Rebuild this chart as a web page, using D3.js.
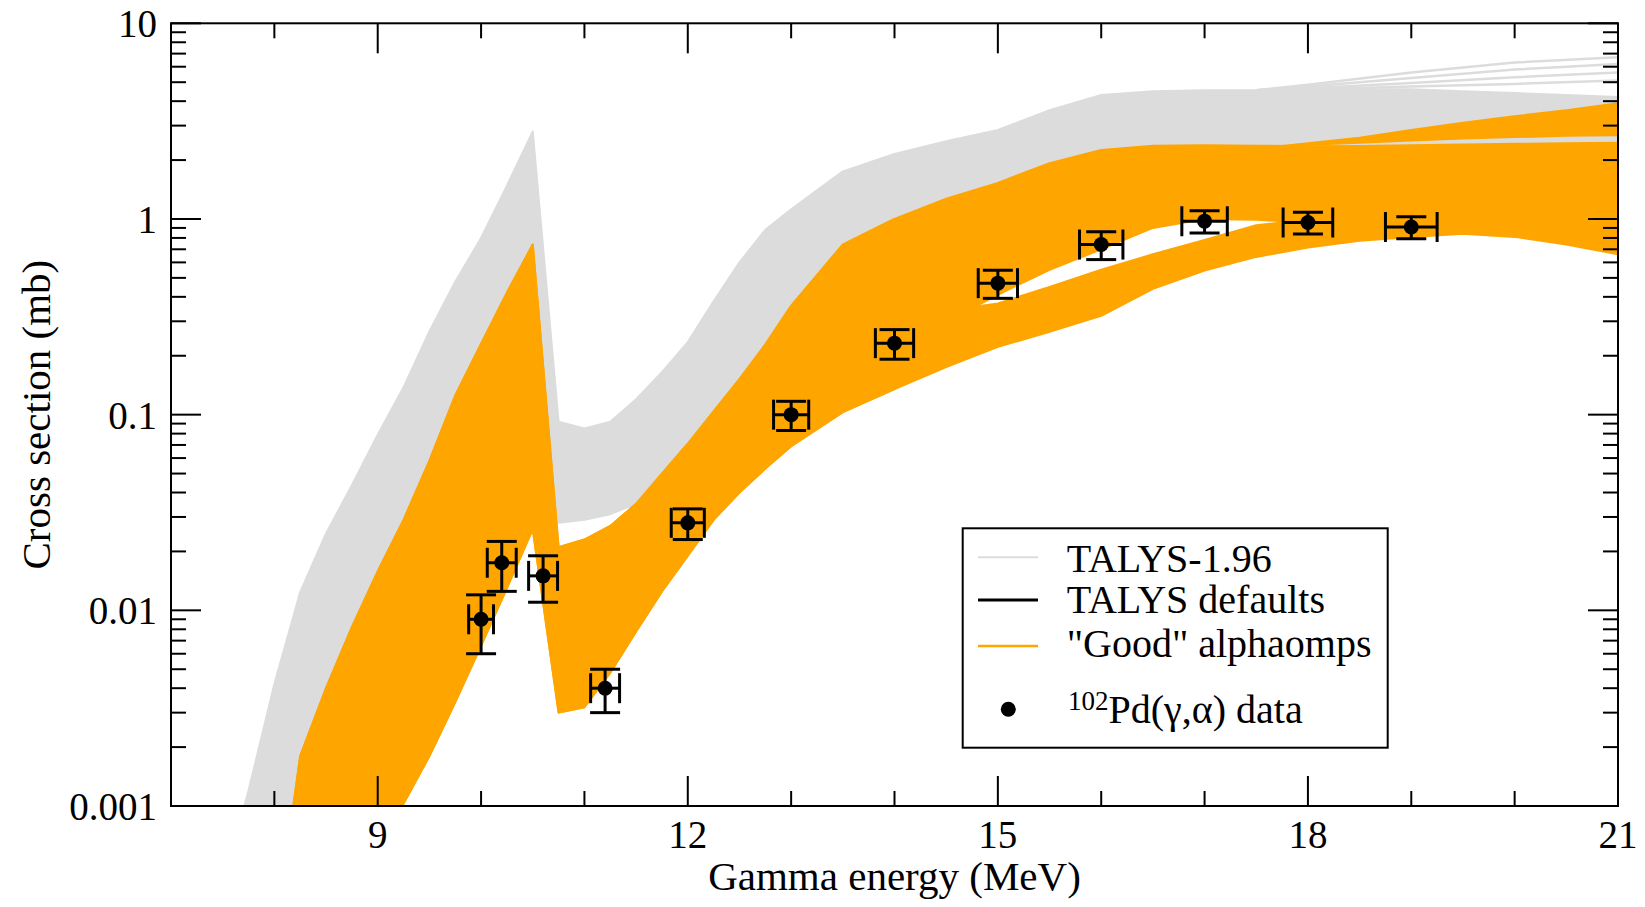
<!DOCTYPE html>
<html>
<head>
<meta charset="utf-8">
<script src="https://cdn.jsdelivr.net/npm/d3@7"></script>
<style>
  html, body { margin: 0; padding: 0; background: #fff; }
  svg { display: block; }
  text { font-family: "Liberation Serif", "Times New Roman", Times, serif; fill: #000; }
</style>
</head>
<body>
<svg id="chart" width="1645" height="907"></svg>
<script>
// ---- Calculation grid (MeV) shared by the TALYS curve envelopes ----
const energies = [7.5, 7.75, 8.0, 8.25, 8.5, 8.75, 9.0, 9.25, 9.5, 9.75, 10.0, 10.25, 10.5,
  10.75, 11.0, 11.25, 11.5, 11.75, 12.0, 12.25, 12.5, 12.75, 13.0, 13.5, 14.0, 14.5, 15.0,
  15.5, 16.0, 16.5, 17.0, 17.5, 18.0, 18.5, 19.0, 19.5, 20.0, 20.5, 21.0];

// TALYS-1.96, all alpha optical model potentials: upper / lower envelope (mb)
const grayUpper = [0.0004, 0.0012, 0.0042, 0.0124, 0.0247, 0.0436, 0.079, 0.138, 0.266, 0.478, 0.80, 1.48, 2.8,
  0.092, 0.085, 0.092, 0.12, 0.165, 0.235, 0.38, 0.6, 0.88, 1.12, 1.75, 2.15, 2.5, 2.85,
  3.6, 4.3, 4.5, 4.55, 4.55, 4.6, 4.6, 4.6, 4.5, 4.4, 4.3, 4.2];
const grayLower = [0.00001, 0.00002, 0.00005, 0.0005, 0.0012, 0.0025, 0.005, 0.009, 0.017, 0.035, 0.065, 0.12, 0.22,
  0.028, 0.029, 0.031, 0.035, 0.045, 0.06, 0.09, 0.13, 0.2, 0.3, 0.55, 0.8, 1.0, 1.2,
  1.4, 1.5, 1.6, 1.65, 1.7, 1.75, 1.8, 1.85, 1.9, 1.95, 2.0, 2.0];

// A few TALYS-1.96 curves that fan out above the rest at high energy
const grayFanEnergies = [17.5, 18.0, 19.0, 20.0, 21.0];
const grayFanCurves = [
  [4.55, 4.85, 5.6, 6.3, 6.7],
  [4.55, 4.75, 5.25, 5.8, 6.2],
  [4.55, 4.65, 4.95, 5.3, 5.6],
  [4.55, 4.6, 4.75, 4.9, 5.1]
];

// TALYS default inputs
const defaultCurve = [0.00005, 0.0001, 0.0003, 0.0012, 0.0025, 0.004, 0.006, 0.009, 0.013, 0.018, 0.025, 0.035, 0.05,
  0.0045, 0.0044, 0.0052, 0.008, 0.013, 0.022, 0.035, 0.05, 0.08, 0.13, 0.3, 0.55, 0.8, 1.05,
  1.3, 1.55, 1.7, 1.8, 1.85, 1.9, 1.95, 2.0, 2.05, 2.1, 2.15, 2.2];

// "Good" alphaomps: overall envelope
const orangeUpper = [0.00001, 0.00002, 0.0002, 0.0018, 0.004, 0.0082, 0.0158, 0.029, 0.058, 0.125, 0.23, 0.42, 0.74,
  0.021, 0.023, 0.027, 0.035, 0.050, 0.071, 0.104, 0.152, 0.228, 0.36, 0.74, 1.0, 1.27, 1.53,
  1.93, 2.25, 2.37, 2.38, 2.37, 2.35, 2.36, 2.38, 2.4, 2.42, 2.44, 2.45];
const orangeLower = [0.000001, 0.000002, 0.000005, 0.00001, 0.00003, 0.0001, 0.00045, 0.00103, 0.0018, 0.0034, 0.0066, 0.013, 0.026,
  0.0030, 0.0032, 0.0048, 0.0078, 0.0125, 0.019, 0.029, 0.040, 0.053, 0.069, 0.103, 0.135, 0.175, 0.222,
  0.265, 0.32, 0.44, 0.545, 0.64, 0.715, 0.775, 0.81, 0.84, 0.81, 0.74, 0.66];
// the good set splits into two families between 15 and 18 MeV
const orangeFamilyALower = [0.000001, 0.000002, 0.000005, 0.00001, 0.00003, 0.0001, 0.00045, 0.00103, 0.0018, 0.0034, 0.0066, 0.013, 0.026,
  0.0030, 0.0032, 0.0048, 0.0078, 0.0125, 0.019, 0.029, 0.040, 0.053, 0.069, 0.103, 0.135, 0.30, 0.41,
  0.55, 0.70, 0.90, 1.0, 0.99, 0.96, 0.9, 0.9, 0.9, 0.9, 0.9, 0.9];
const orangeFamilyBUpper = [0.00001, 0.00002, 0.0002, 0.0018, 0.004, 0.0082, 0.0158, 0.029, 0.058, 0.125, 0.23, 0.42, 0.74,
  0.021, 0.023, 0.027, 0.035, 0.050, 0.071, 0.104, 0.152, 0.228, 0.36, 0.74, 1.0, 0.34, 0.37,
  0.45, 0.55, 0.66, 0.78, 0.93, 0.99, 1.1, 1.2, 1.3, 1.3, 1.3, 1.3];
// good curves rising above the main group at high energy
const orangeFanEnergies = [17.75, 18.5, 19.0, 19.5, 20.0, 20.5, 21.0];
const orangeFanLower = [2.36, 2.45, 2.52, 2.58, 2.62, 2.66, 2.68];
const orangeFanUpper = [2.36, 2.6, 2.85, 3.1, 3.35, 3.6, 3.9];

// 102Pd(gamma,alpha) measured points
const dataEnergy = [10.0, 10.2, 10.6, 11.2, 12.0, 13.0, 14.0, 15.0, 16.0, 17.0, 18.0, 19.0];
const dataSigma = [0.009, 0.0175, 0.015, 0.004, 0.028, 0.100, 0.232, 0.47, 0.74, 0.975, 0.96, 0.91];
const dataSigmaErr = [0.003, 0.005, 0.004, 0.001, 0.005, 0.017, 0.04, 0.077, 0.12, 0.128, 0.122, 0.117];
const dataEnergyErr = [0.12, 0.14, 0.14, 0.14, 0.16, 0.17, 0.185, 0.19, 0.21, 0.22, 0.24, 0.25];

// Axis ticks
const xMajorTicks = [9, 12, 15, 18, 21];
const xMinorTicks = [8, 10, 11, 13, 14, 16, 17, 19, 20];
const yMajorTicks = [0.001, 0.01, 0.1, 1, 10];
const yTickLabels = ["0.001", "0.01", "0.1", "1", "10"];

// Legend entries
const legendLabels = ["TALYS-1.96", "TALYS defaults", "\"Good\" alphaomps"];

// ---- Layout ----
const GRAY = "#dcdcdc", ORANGE = "#ffa500";
const plot = { left: 171, right: 1618, top: 23.3, bottom: 806 };
const x = d3.scaleLinear().domain([7, 21]).range([plot.left, plot.right]);
const y = d3.scaleLog().domain([0.001, 10]).range([plot.bottom, plot.top]);

const svg = d3.select("#chart");
svg.append("defs").append("clipPath").attr("id", "plotClip")
  .append("rect")
  .attr("x", plot.left).attr("y", plot.top)
  .attr("width", plot.right - plot.left).attr("height", plot.bottom - plot.top);

const layer = svg.append("g").attr("clip-path", "url(#plotClip)");

function bandPath(es, lo, hi) {
  return d3.area()
    .x((d, i) => x(es[i]))
    .y0((d, i) => y(lo[i]))
    .y1((d, i) => y(hi[i]))(es);
}
function linePath(es, vals) {
  return d3.line().x((d, i) => x(es[i])).y((d, i) => y(vals[i]))(es);
}
function drawBand(es, lo, hi, color) {
  layer.append("path").attr("d", bandPath(es, lo, hi))
    .attr("fill", color).attr("stroke", color).attr("stroke-width", 2)
    .attr("stroke-linejoin", "round");
}

// TALYS-1.96 band
drawBand(energies, grayLower, grayUpper, GRAY);
grayFanCurves.forEach(c => {
  layer.append("path").attr("d", linePath(grayFanEnergies, c))
    .attr("fill", "none").attr("stroke", GRAY).attr("stroke-width", 2.5);
});

// TALYS defaults
layer.append("path").attr("d", linePath(energies, defaultCurve))
  .attr("fill", "none").attr("stroke", "#000").attr("stroke-width", 1.5);

// "Good" alphaomps band (two families plus the high-energy fan)
drawBand(energies, orangeLower, orangeFamilyBUpper, ORANGE);
drawBand(energies, orangeFamilyALower, orangeUpper, ORANGE);
drawBand(orangeFanEnergies, orangeFanLower, orangeFanUpper, ORANGE);

// Measured points with error bars
const pts = layer.append("g").attr("stroke", "#000").attr("stroke-width", 3);
dataEnergy.forEach((e, i) => {
  const cx = x(e), cy = y(dataSigma[i]);
  const yTop = y(dataSigma[i] + dataSigmaErr[i]);
  const yBot = y(dataSigma[i] - dataSigmaErr[i]);
  const xL = x(e - dataEnergyErr[i]), xR = x(e + dataEnergyErr[i]);
  const g = pts.append("g");
  g.append("line").attr("x1", cx).attr("x2", cx).attr("y1", yTop).attr("y2", yBot);
  g.append("line").attr("x1", cx - 15).attr("x2", cx + 15).attr("y1", yTop).attr("y2", yTop);
  g.append("line").attr("x1", cx - 15).attr("x2", cx + 15).attr("y1", yBot).attr("y2", yBot);
  g.append("line").attr("x1", xL).attr("x2", xR).attr("y1", cy).attr("y2", cy);
  g.append("line").attr("x1", xL).attr("x2", xL).attr("y1", cy - 15).attr("y2", cy + 15);
  g.append("line").attr("x1", xR).attr("x2", xR).attr("y1", cy - 15).attr("y2", cy + 15);
  g.append("circle").attr("cx", cx).attr("cy", cy).attr("r", 7.5).attr("fill", "#000").attr("stroke", "none");
});

// ---- Frame and ticks (inward, mirrored on all four sides) ----
const axes = svg.append("g").attr("stroke", "#000").attr("stroke-width", 2);
const MAJ = 30, MIN = 15;
xMajorTicks.concat(xMinorTicks).forEach(t => {
  const len = xMajorTicks.includes(t) ? MAJ : MIN;
  axes.append("line").attr("x1", x(t)).attr("x2", x(t)).attr("y1", plot.bottom).attr("y2", plot.bottom - len);
  axes.append("line").attr("x1", x(t)).attr("x2", x(t)).attr("y1", plot.top).attr("y2", plot.top + len);
});
y.ticks().forEach(t => {
  const isMajor = yMajorTicks.some(m => Math.abs(m - t) / m < 1e-6);
  const len = isMajor ? MAJ : MIN;
  axes.append("line").attr("x1", plot.left).attr("x2", plot.left + len).attr("y1", y(t)).attr("y2", y(t));
  axes.append("line").attr("x1", plot.right).attr("x2", plot.right - len).attr("y1", y(t)).attr("y2", y(t));
});
axes.append("rect").attr("x", plot.left).attr("y", plot.top)
  .attr("width", plot.right - plot.left).attr("height", plot.bottom - plot.top)
  .attr("fill", "none");

// tick labels
svg.append("g").selectAll("text").data(xMajorTicks).join("text")
  .attr("x", d => x(d)).attr("y", 848).attr("text-anchor", "middle")
  .attr("font-size", 39).text(d => d);
svg.append("g").selectAll("text").data(yMajorTicks).join("text")
  .attr("x", 157).attr("y", d => y(d) + 14).attr("text-anchor", "end")
  .attr("font-size", 39).text((d, i) => yTickLabels[i]);

// axis titles
svg.append("text").attr("x", (plot.left + plot.right) / 2).attr("y", 890)
  .attr("text-anchor", "middle").attr("font-size", 41).text("Gamma energy (MeV)");
svg.append("text").attr("transform", `translate(50,${(plot.top + plot.bottom) / 2}) rotate(-90)`)
  .attr("text-anchor", "middle").attr("font-size", 41).text("Cross section (mb)");

// ---- Legend ----
const lg = svg.append("g");
lg.append("rect").attr("x", 962.7).attr("y", 528.3).attr("width", 425).attr("height", 219.4)
  .attr("fill", "#fff").attr("stroke", "#000").attr("stroke-width", 2);
const legendColors = [GRAY, "#000", ORANGE];
const legendWidths = [2, 3, 2.5];
const legendLineY = [557.3, 600, 646];
const legendTextY = [571.7, 613.3, 656.7];
legendLabels.forEach((lab, i) => {
  lg.append("line").attr("x1", 978).attr("x2", 1038).attr("y1", legendLineY[i]).attr("y2", legendLineY[i])
    .attr("stroke", legendColors[i]).attr("stroke-width", legendWidths[i]);
  lg.append("text").attr("x", 1066.7).attr("y", legendTextY[i]).attr("font-size", 40).text(lab);
});
lg.append("circle").attr("cx", 1008.3).attr("cy", 709.3).attr("r", 7.5).attr("fill", "#000");
const dt = lg.append("text").attr("x", 1068).attr("y", 723.3).attr("font-size", 40);
dt.append("tspan").attr("font-size", 27).attr("dy", -13).text("102");
dt.append("tspan").attr("dy", 13).text("Pd(\u03b3,\u03b1) data");
</script>
</body>
</html>
